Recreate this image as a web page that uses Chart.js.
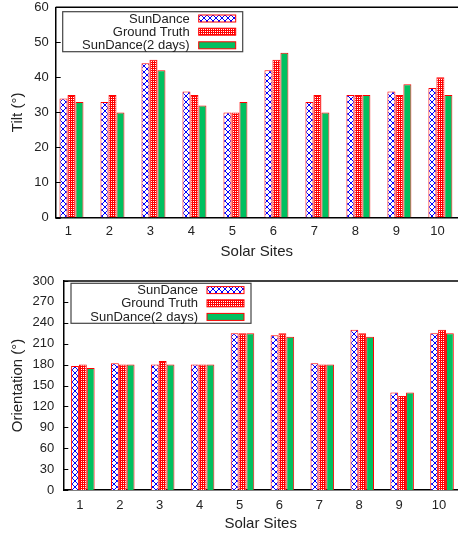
<!DOCTYPE html>
<html>
<head>
<meta charset="utf-8">
<script src="https://cdn.jsdelivr.net/npm/chart.js@4.4.1/dist/chart.umd.min.js"></script>
<style>
  body { margin: 0; background: #fff; overflow: hidden; }
  .box { position: absolute; left: 0; width: 458px; }
  #top { top: 0; height: 268px; }
  #bottom { top: 268px; height: 267px; }
</style>
</head>
<body>
<div class="box" id="top"><canvas id="tilt"></canvas></div>
<div class="box" id="bottom"><canvas id="orientation"></canvas></div>
<script>
const sites = [1, 2, 3, 4, 5, 6, 7, 8, 9, 10];
const seriesNames = ['SunDance', 'Ground Truth', 'SunDance(2 days)'];

const tiltSunDance     = [34, 33, 44, 36, 30, 42, 33, 35, 36, 37];
const tiltGroundTruth  = [35, 35, 45, 35, 30, 45, 35, 35, 35, 40];
const tiltSunDance2d   = [33, 30, 42, 32, 33, 47, 30, 35, 38, 35];
const tiltTicks = [0, 10, 20, 30, 40, 50, 60];

const orientSunDance    = [178, 182, 180, 180, 225, 222, 182, 230, 140, 225];
const orientGroundTruth = [180, 180, 185, 180, 225, 225, 180, 225, 135, 230];
const orientSunDance2d  = [175, 180, 180, 180, 225, 220, 180, 220, 140, 225];
const orientTicks = [0, 30, 60, 90, 120, 150, 180, 210, 240, 270, 300];

Chart.defaults.font.family = '"Liberation Sans", Arial, sans-serif';
const textColor = '#222';

// fill patterns like the gnuplot ones
function crossPattern() {
  const c = document.createElement('canvas');
  c.width = 6; c.height = 6;
  const g = c.getContext('2d');
  g.fillStyle = '#fff';
  g.fillRect(0, 0, 6, 6);
  g.strokeStyle = '#0000ff';
  g.lineWidth = 1;
  g.beginPath();
  g.moveTo(0, 0); g.lineTo(6, 6);
  g.moveTo(6, 0); g.lineTo(0, 6);
  g.stroke();
  return g.createPattern(c, 'repeat');
}
function dotPattern() {
  const c = document.createElement('canvas');
  c.width = 4; c.height = 4;
  const g = c.getContext('2d');
  g.fillStyle = '#ff0000';
  g.fillRect(0, 0, 4, 4);
  g.fillStyle = '#fff';
  [[1, 1], [3, 3], [1, 3], [3, 1]].forEach(p => g.fillRect(p[0], p[1], 1, 1));
  return g.createPattern(c, 'repeat');
}
const fills = [crossPattern(), dotPattern(), '#00c060'];

// top border, inward y ticks and the boxed legend
function framePlugin(lg) {
  return {
    id: 'frame',
    afterDraw(chart) {
      const ctx = chart.ctx;
      const a = chart.chartArea;
      const y = chart.scales.y;
      ctx.save();
      ctx.strokeStyle = '#000';
      ctx.lineWidth = 1.5;
      ctx.beginPath();
      ctx.moveTo(a.left, a.top);
      ctx.lineTo(a.right, a.top);
      ctx.stroke();
      ctx.lineWidth = 1;
      y.ticks.forEach((t, i) => {
        const py = Math.round(y.getPixelForTick(i)) + 0.5;
        ctx.beginPath();
        ctx.moveTo(a.left, py);
        ctx.lineTo(a.left + 5, py);
        ctx.stroke();
      });

      const bx = a.left + lg.dx, by = a.top + lg.dy;
      ctx.strokeStyle = '#444';
      ctx.lineWidth = 1.2;
      ctx.fillStyle = '#fff';
      ctx.fillRect(bx, by, 180, 40);
      ctx.strokeRect(bx, by, 180, 40);
      ctx.font = '13px "Liberation Sans", Arial, sans-serif';
      ctx.textAlign = 'right';
      ctx.textBaseline = 'middle';
      const rows = [6.8, 20, 33.6];
      chart.data.datasets.forEach((ds, i) => {
        const ry = by + rows[i];
        ctx.fillStyle = textColor;
        ctx.fillText(ds.label, bx + 127, ry + 0.5);
        ctx.fillStyle = ds.backgroundColor;
        ctx.fillRect(bx + 136, ry - 3.5, 37, 7);
        ctx.strokeStyle = '#ff0000';
        ctx.lineWidth = 1;
        ctx.strokeRect(bx + 136, ry - 3.5, 37, 7);
      });
      ctx.restore();
    }
  };
}

function makeChart(id, series, yTicks, yTitle, lay) {
  new Chart(document.getElementById(id), {
    type: 'bar',
    data: {
      datasets: series.map((vals, i) => ({
        label: seriesNames[i],
        data: vals.map((v, j) => ({x: sites[j], y: v})),
        backgroundColor: fills[i],
        borderColor: '#ff0000',
        borderWidth: 1,
        categoryPercentage: lay.catPct,
        barPercentage: 1
      }))
    },
    options: {
      responsive: true,
      maintainAspectRatio: false,
      animation: false,
      layout: { padding: { top: lay.top, left: 0, right: 0, bottom: 0 } },
      plugins: { legend: { display: false }, tooltip: { enabled: false } },
      scales: {
        x: {
          type: 'linear',
          offset: false,
          min: lay.xMin,
          max: lay.xMax,
          afterBuildTicks: s => { s.ticks = sites.map(v => ({value: v})); },
          afterFit: s => { s.height = lay.xHeight; s.paddingLeft = 0; s.paddingRight = 0; },
          grid: { display: false, drawTicks: false, offset: false },
          border: { color: '#000', width: 1.5 },
          ticks: { padding: lay.xPad, labelOffset: -3, color: textColor, font: { size: 13 } },
          title: { display: true, text: 'Solar Sites', color: textColor, font: { size: 15 },
                   padding: { top: 0, bottom: lay.titlePad } }
        },
        y: {
          min: 0,
          max: yTicks[yTicks.length - 1],
          afterBuildTicks: s => { s.ticks = yTicks.map(v => ({value: v})); },
          afterFit: s => { s.width = lay.yWidth; s.paddingTop = 0; s.paddingBottom = 0; },
          grid: { display: false, drawTicks: false },
          border: { color: '#000', width: 1.5 },
          ticks: { padding: lay.yPad, color: textColor, font: { size: 13 } },
          title: { display: true, text: yTitle, color: textColor, font: { size: 15 },
                   padding: { top: 8.6, bottom: 0 } }
        }
      }
    },
    plugins: [framePlugin(lay.legend)]
  });
}

makeChart('tilt', [tiltSunDance, tiltGroundTruth, tiltSunDance2d], tiltTicks, 'Tilt (°)',
  { top: 7.3, xMin: 0.615, xMax: 10.43, xHeight: 50.5, xPad: 6.5, titlePad: 7, yWidth: 55.7, yPad: 7,
    catPct: 0.585, legend: { dx: 7, dy: 4.4 } });

makeChart('orientation', [orientSunDance, orientGroundTruth, orientSunDance2d], orientTicks, 'Orientation (°)',
  { top: 13, xMin: 0.51, xMax: 10.4, xHeight: 45, xPad: 7.5, titlePad: 2.5, yWidth: 63.3, yPad: 9,
    catPct: 0.59, legend: { dx: 7.7, dy: 2.3 } });
</script>
</body>
</html>
